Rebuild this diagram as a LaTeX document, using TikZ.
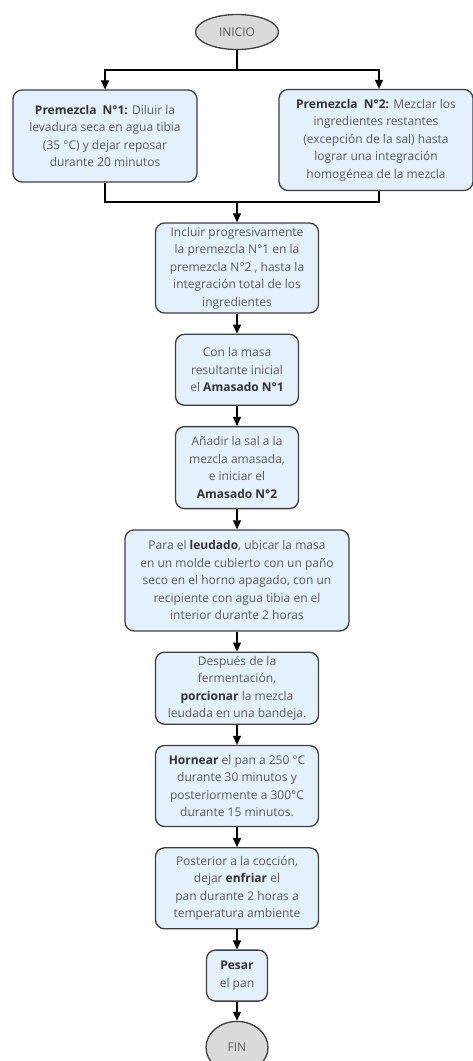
\documentclass[tikz,border=0pt]{standalone}
\usepackage{fontspec}
\setmainfont{Open Sans}
\usetikzlibrary{shapes.geometric, arrows.meta, positioning}
\definecolor{boxfill}{HTML}{E4F0FB}
\definecolor{boxline}{HTML}{3F3F3F}
\definecolor{txtgray}{HTML}{5C5C5C}
\definecolor{txtdark}{HTML}{333333}
\definecolor{endfill}{HTML}{DADADA}
\newcommand{\hl}[1]{\textbf{\color{txtdark}#1}}

\begin{document}
\begin{tikzpicture}[
    x=1pt, y=-1pt,
    node distance=20pt,
    box/.style={rectangle, draw=boxline, line width=1.3pt, fill=boxfill, rounded corners=9pt, align=center, inner sep=2pt, font=\fontsize{12}{17.5}\selectfont, text=txtgray},
    terminal/.style={ellipse, draw=boxline, line width=1.3pt, fill=endfill, inner sep=0pt, font=\fontsize{12}{14}\selectfont, text=txtgray},
    arrow/.style={-{Triangle[width=8pt,length=9pt]}, line width=1.1pt, black},
    link/.style={line width=1.1pt, black}
]
\useasboundingbox (0,0) rectangle (473,1061);

\node[terminal, minimum width=83pt, minimum height=35pt] (inicio) at (237,32) {INICIO};
\node[box, minimum width=184pt, minimum height=92pt] (pre1) at (105,136) {\hl{Premezcla\ \ N°1:} Diluir la\\ levadura seca en agua tibia\\ (35 °C) y dejar reposar\\ durante 20 minutos};
\node[box, minimum width=194pt, minimum height=101pt] (pre2) at (376,140) {\hl{Premezcla\ \ N°2:} Mezclar los\\ ingredientes restantes\\ (excepción de la sal) hasta\\ lograr una integración\\ homogénea de la mezcla};
\node[box, minimum width=163pt, minimum height=90pt] (incl) at (237,268) {Incluir progresivamente\\ la premezcla N°1 en la\\ premezcla N°2 , hasta la\\ integración total de los\\ ingredientes};
\node[box, minimum width=123pt, minimum height=71pt, below=of incl] (amas1) {Con la masa\\ resultante inicial\\ el \hl{Amasado N°1}};
\node[box, minimum width=123pt, minimum height=82pt, below=of amas1] (amas2) {Añadir la sal a la\\ mezcla amasada,\\ e iniciar el\\ \hl{Amasado N°2}};
\node[box, minimum width=224pt, minimum height=101pt, below=of amas2] (leud) {Para el \hl{leudado}, ubicar la masa\\ en un molde cubierto con un paño\\ seco en el horno apagado, con un\\ recipiente con agua tibia en el\\ interior durante 2 horas};
\node[box, minimum width=163pt, minimum height=72pt, below=of leud] (porc) {Después de la\\ fermentación,\\ \hl{porcionar} la mezcla\\ leudada en una bandeja.};
\node[box, minimum width=163pt, minimum height=81pt, below=of porc] (horn) {\hl{Hornear} el pan a 250 °C\\ durante 30 minutos y\\ posteriormente a 300°C\\ durante 15 minutos.};
\node[box, minimum width=163pt, minimum height=81pt, below=of horn] (enfr) {Posterior a la cocción,\\ dejar \hl{enfriar} el\\ pan durante 2 horas a\\ temperatura ambiente};
\node[box, minimum width=61pt, minimum height=51pt, below=of enfr] (pesar) {\hl{Pesar}\\ el pan};
\node[terminal, minimum width=62pt, minimum height=52pt, below=19pt of pesar] (fin) {FIN};

% split and merge of the two premixes
\coordinate (split) at (237,70);
\coordinate (merge) at (237,202);
\draw[link] (inicio) -- (split);
\draw[arrow] (split) -| (pre1.north);
\draw[arrow] (split) -| ([xshift=3pt]pre2.north);
\draw[link] (pre1.south) |- (merge);
\draw[link] ([xshift=3pt]pre2.south) |- (merge);
\draw[arrow] (merge) -- (incl);

% main chain
\draw[arrow] (incl) -- (amas1);
\draw[arrow] (amas1) -- (amas2);
\draw[arrow] (amas2) -- (leud);
\draw[arrow] (leud) -- (porc);
\draw[arrow] (porc) -- (horn);
\draw[arrow] (horn) -- (enfr);
\draw[arrow] (enfr) -- (pesar);
\draw[arrow] (pesar) -- (fin);

\end{tikzpicture}
\end{document}
